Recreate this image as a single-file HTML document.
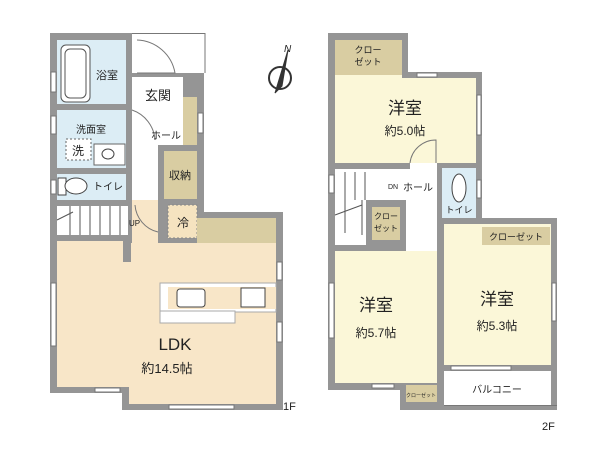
<!DOCTYPE html><html><head><meta charset="utf-8"><style>body{margin:0;background:#fff}svg{display:block}text{font-family:"Liberation Sans","Noto Sans CJK JP",sans-serif;fill:#222}</style></head><body>
<svg width="600" height="450" viewBox="0 0 600 450">
<g fill="#959595">
<rect x="50" y="33" width="82" height="210"/>
<rect x="50" y="235" width="82" height="6"/>
<rect x="126" y="73" width="78" height="78"/>
<rect x="158" y="145" width="46" height="100"/>
<rect x="50" y="212" width="233" height="181"/>
<rect x="122" y="387" width="161" height="23"/>
<rect x="328" y="33" width="80" height="140"/>
<rect x="402" y="72" width="80" height="101"/>
<rect x="328" y="163" width="154" height="227"/>
<rect x="437" y="218" width="120" height="192"/>
<rect x="400" y="380" width="44" height="30"/>
</g>
<rect x="132" y="33" width="73" height="40" fill="#fff"/>
<line x1="132" y1="33.5" x2="205" y2="33.5" stroke="#777"/><line x1="205" y1="33" x2="205" y2="73" stroke="#777"/>
<path d="M137 40 A40 40 0 0 1 175 73 L137 73" fill="none" stroke="#777"/>
<rect x="57" y="40" width="69" height="64" fill="#dcedf5"/>
<rect x="61" y="45" width="29" height="57" rx="5" fill="#fff" stroke="#555"/>
<rect x="65" y="49" width="21" height="49" rx="5" fill="none" stroke="#555"/>
<text x="107" y="79" font-size="11" text-anchor="middle">浴室</text>
<rect x="132" y="77" width="51" height="31" fill="#fff"/>
<text x="158" y="100" font-size="13" text-anchor="middle">玄関</text>
<rect x="183" y="97" width="14" height="48" fill="#d9cda2"/>
<rect x="132" y="108" width="26" height="127" fill="#fff"/>
<rect x="158" y="108" width="25" height="37" fill="#fff"/>
<path d="M132 110 A34 34 0 0 1 155 140" fill="none" stroke="#777"/>
<text x="166" y="139" font-size="10" text-anchor="middle">ホール</text>
<rect x="57" y="110" width="69" height="58" fill="#dcedf5"/>
<text x="91" y="133" font-size="10" text-anchor="middle">洗面室</text>
<rect x="66" y="139" width="25" height="21" fill="#fff" stroke="#666" stroke-dasharray="2,2"/>
<text x="78" y="155" font-size="12" text-anchor="middle">洗</text>
<rect x="94" y="144" width="31" height="21" fill="#fff" stroke="#666"/>
<ellipse cx="108" cy="154" rx="6" ry="5" fill="none" stroke="#444"/>
<rect x="57" y="174" width="69" height="26" fill="#dcedf5"/>
<rect x="58" y="178" width="8" height="17" fill="#fff" stroke="#444"/>
<ellipse cx="76" cy="186" rx="11" ry="8" fill="#fff" stroke="#444"/>
<text x="108" y="190" font-size="10" text-anchor="middle">トイレ</text>
<rect x="164" y="151" width="33" height="48" fill="#d9cda2"/>
<text x="180" y="179" font-size="11" text-anchor="middle">収納</text>
<rect x="57" y="206" width="71" height="29" fill="#fff"/>
<g stroke="#555"><line x1="70" y1="206" x2="70" y2="235"/><line x1="80" y1="206" x2="80" y2="235"/><line x1="90" y1="206" x2="90" y2="235"/><line x1="100" y1="206" x2="100" y2="235"/><line x1="110" y1="206" x2="110" y2="235"/><line x1="120" y1="206" x2="120" y2="235"/><line x1="57" y1="220" x2="73" y2="212"/></g>
<rect x="132" y="200" width="26" height="43" fill="#f8e6c8"/>
<path d="M135 205 A30 30 0 0 0 158 232" fill="none" stroke="#777"/>
<text x="129" y="226" font-size="8">UP</text>
<rect x="168" y="205" width="29" height="33" fill="#f5e3c0" stroke="#888" stroke-dasharray="2,2"/>
<text x="183" y="227" font-size="12" text-anchor="middle">冷</text>
<rect x="197" y="218" width="79" height="25" fill="#d9cda2"/>
<rect x="57" y="241" width="66" height="146" fill="#f8e6c8"/>
<rect x="123" y="262" width="153" height="125" fill="#f8e6c8"/>
<rect x="131" y="243" width="145" height="20" fill="#f8e6c8"/>
<rect x="129" y="387" width="147" height="17" fill="#f8e6c8"/>
<rect x="160" y="283" width="116" height="29" fill="#fff" stroke="#aaa"/>
<rect x="160" y="311" width="75" height="12" fill="#fff" stroke="#aaa"/>
<rect x="168" y="287" width="108" height="22" fill="#f8e6c8"/>
<rect x="177" y="289" width="28" height="18" rx="3" fill="#fff" stroke="#444"/>
<rect x="241" y="288" width="24" height="19" fill="#fff" stroke="#444"/>
<text x="175" y="350" font-size="17" text-anchor="middle">LDK</text>
<text x="167" y="373" font-size="13" text-anchor="middle">約14.5帖</text>
<text x="283" y="410" font-size="11">1F</text>
<g fill="#fff" stroke="#777"><rect x="51" y="72" width="5" height="20"/><rect x="51" y="116" width="5" height="18"/><rect x="51" y="180" width="5" height="14"/><rect x="51" y="283" width="5" height="63"/><rect x="198" y="113" width="5" height="20"/><rect x="277" y="262" width="5" height="18"/><rect x="277" y="322" width="5" height="20"/><rect x="95" y="388" width="25" height="4"/><rect x="169" y="405" width="65" height="4"/></g>
<g transform="translate(280,78)" stroke="#333" fill="none"><circle r="11" stroke-width="2"/><path d="M8 -28 L-5 15 L2 8 Z" fill="#333"/><text x="4" y="-26" font-size="10" font-style="italic" stroke="none">N</text></g>
<rect x="335" y="40" width="67" height="35" fill="#d9cda2"/>
<text x="368" y="53" font-size="9" text-anchor="middle">クロー</text><text x="368" y="65" font-size="9" text-anchor="middle">ゼット</text>
<rect x="335" y="78" width="141" height="85" fill="#fbf7d8"/>
<rect x="335" y="75" width="67" height="3" fill="#fbf7d8"/>
<text x="405" y="114" font-size="17" text-anchor="middle">洋室</text>
<text x="405" y="135" font-size="12" text-anchor="middle">約5.0帖</text>
<rect x="335" y="169" width="102" height="76" fill="#fff"/>
<rect x="406" y="245" width="31" height="20" fill="#fff"/>
<rect x="410" y="163" width="27" height="6" fill="#fff"/>
<path d="M410 163 A26 26 0 0 1 436 140 L436 163" fill="none" stroke="#777"/>
<g stroke="#555"><line x1="345" y1="172" x2="345" y2="233"/><line x1="355" y1="172" x2="355" y2="200"/><line x1="365" y1="172" x2="365" y2="200"/><line x1="335" y1="215" x2="362" y2="205"/><line x1="362" y1="200" x2="362" y2="235"/></g>
<rect x="366" y="200" width="40" height="60" fill="#959595"/>
<rect x="372" y="207" width="28" height="33" fill="#d9cda2"/>
<text x="386" y="219" font-size="8" text-anchor="middle">クロー</text><text x="386" y="231" font-size="8" text-anchor="middle">ゼット</text>
<text x="388" y="189" font-size="7">DN</text>
<text x="418" y="191" font-size="10" text-anchor="middle">ホール</text>
<rect x="442" y="168" width="34" height="50" fill="#dcedf5"/>
<ellipse cx="459" cy="188" rx="7" ry="14" fill="#fff" stroke="#444"/>
<text x="459" y="213" font-size="9" text-anchor="middle">トイレ</text>
<rect x="335" y="251" width="102" height="132" fill="#fbf7d8"/>
<text x="376" y="311" font-size="17" text-anchor="middle">洋室</text>
<text x="376" y="337" font-size="12" text-anchor="middle">約5.7帖</text>
<rect x="406" y="385" width="31" height="17" fill="#d9cda2"/>
<text x="421" y="397" font-size="5" text-anchor="middle">クローゼット</text>
<rect x="444" y="224" width="107" height="141" fill="#fbf7d8"/>
<rect x="482" y="227" width="68" height="18" fill="#d9cda2"/>
<text x="516" y="240" font-size="9" text-anchor="middle">クローゼット</text>
<text x="497" y="305" font-size="17" text-anchor="middle">洋室</text>
<text x="497" y="330" font-size="12" text-anchor="middle">約5.3帖</text>
<rect x="444" y="371" width="107" height="34" fill="#fff"/>
<line x1="444" y1="405.5" x2="557" y2="405.5" stroke="#777"/>
<text x="497" y="393" font-size="10" text-anchor="middle">バルコニー</text>
<text x="542" y="430" font-size="11">2F</text>
<g fill="#fff" stroke="#777"><rect x="417" y="73" width="20" height="4"/><rect x="477" y="95" width="4" height="40"/><rect x="329" y="175" width="5" height="18"/><rect x="477" y="180" width="4" height="18"/><rect x="329" y="283" width="5" height="55"/><rect x="552" y="283" width="4" height="38"/><rect x="372" y="384" width="22" height="4"/><rect x="451" y="366" width="60" height="4"/></g>
</svg></body></html>
